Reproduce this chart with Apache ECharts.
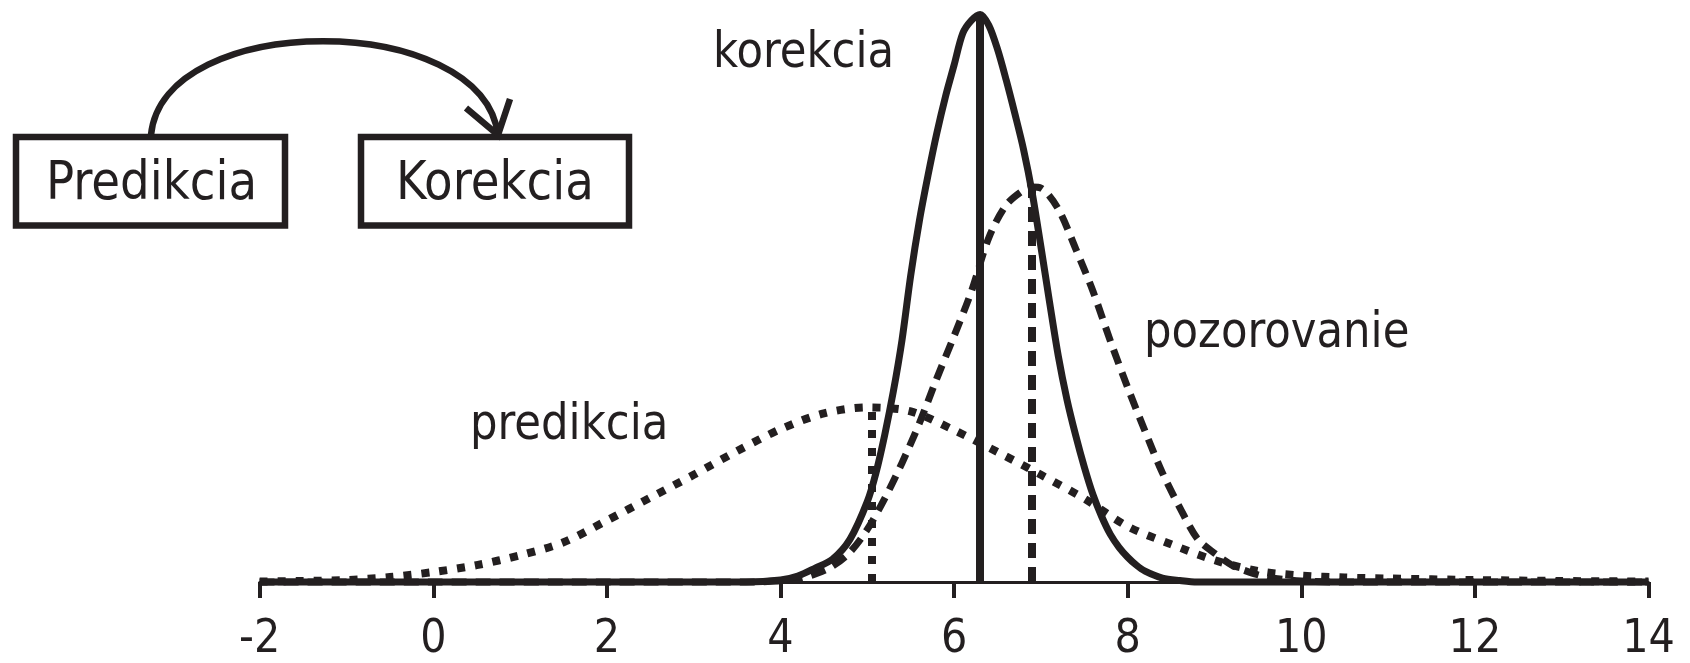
<!DOCTYPE html>
<html>
<head>
<meta charset="utf-8">
<title>Predikcia a korekcia</title>
<script src="https://cdn.jsdelivr.net/npm/echarts@6/dist/echarts.min.js"></script>
<style>
  html, body { margin: 0; padding: 0; background: #ffffff; }
  #chart { width: 1690px; height: 663px; }
</style>
</head>
<body>
<div id="chart"></div>
<script>
// x axis ticks
const xTicks = ['-2', '0', '2', '4', '6', '8', '10', '12', '14'];

// predikcia (dotted curve)
const predX = [-2, -1.5, -1, -0.5, 0, 0.5, 1, 1.5, 2, 2.5, 3, 3.5, 4, 4.5, 5, 5.5, 6, 6.5, 7, 7.5, 8, 8.5, 9, 9.5, 10, 10.5, 11, 12, 13, 14];
const predY = [0.5, 1, 2, 5, 10, 17, 27, 40, 62, 85, 108, 132, 154, 170, 176, 172, 153, 131, 108, 84, 56, 38, 22, 11, 6.5, 4.5, 3.5, 2, 1, 0.5];

// pozorovanie (dashed curve)
const pozX = [-2, 0, 2, 3.6, 4.0, 4.2, 4.4, 4.6, 4.8, 5.0, 5.2, 5.4, 5.6, 5.8, 6.0, 6.2, 6.4, 6.6, 6.8, 6.9, 7.0, 7.2, 7.4, 7.6, 7.8, 8.0, 8.2, 8.4, 8.6, 8.8, 9.0, 9.2, 9.4, 9.6, 9.8, 10.0, 10.4, 12, 14];
const pozY = [0, 0, 0, 0, 1, 3, 8, 16, 30, 53, 84, 120, 160, 205, 248, 293, 347, 380, 395, 398, 397, 376, 336, 293, 243, 196, 152, 110, 75, 44, 29, 17, 10, 5, 2.5, 1, 0, 0, 0];

// korekcia (solid curve)
const korX = [-2, 0, 2, 3.6, 4.0, 4.2, 4.4, 4.6, 4.8, 5.0, 5.1, 5.2, 5.3, 5.4, 5.5, 5.6, 5.7, 5.8, 5.9, 6.0, 6.1, 6.2, 6.3, 6.4, 6.5, 6.6, 6.7, 6.8, 6.9, 7.0, 7.1, 7.2, 7.3, 7.4, 7.5, 7.6, 7.7, 7.8, 7.9, 8.0, 8.1, 8.2, 8.4, 8.6, 8.8, 10, 12, 14];
const korY = [0, 0, 0, 0, 2, 6, 14, 23, 43, 81, 110, 148, 192, 244, 309, 364, 410, 452, 489, 521, 553, 566, 572, 561, 537, 506, 472, 436, 392, 338, 282, 228, 184, 148, 116, 88, 66, 48, 35, 25, 17, 11, 4, 1.5, 0, 0, 0, 0];

// centre lines: predikcia, pozorovanie, korekcia
const centerX = [5.05, 6.9, 6.3];
const centerTop = [176, 397, 572];

const INK = '#231f20';
const WORD_FONT = '"DejaVu Sans Condensed", "DejaVu Sans", sans-serif';

function pairs(xs, ys) {
  return xs.map((x, i) => [x, ys[i]]);
}

function centerLine(i, dash, w) {
  return {
    silent: true,
    symbol: ['none', 'none'],
    label: { show: false },
    emphasis: { disabled: true },
    animation: false,
    lineStyle: { color: INK, width: w, type: dash, cap: 'butt' },
    data: [[{ coord: [centerX[i], 0] }, { coord: [centerX[i], centerTop[i]] }]]
  };
}

function curve(name, xs, ys, dash, w, idx) {
  return {
    name: name,
    type: 'line',
    data: pairs(xs, ys),
    showSymbol: false,
    smooth: 0.3,
    clip: false,
    animation: false,
    lineStyle: { color: INK, width: w, type: dash, cap: 'butt', join: 'round' },
    markLine: centerLine(idx, dash, 8)
  };
}

function word(text, x, y, size, sx) {
  return {
    type: 'text',
    x: x, y: y,
    scaleX: sx,
    silent: true,
    style: {
      text: text, x: 0, y: 0,
      fill: INK,
      fontSize: size,
      fontFamily: WORD_FONT,
      align: 'left',
      verticalAlign: 'middle'
    }
  };
}

const chart = echarts.init(document.getElementById('chart'), null, { renderer: 'canvas' });

chart.setOption({
  backgroundColor: '#ffffff',
  animation: false,
  grid: { left: 259.7, right: 41.5, top: 6.5, bottom: 76.5, containLabel: false },
  xAxis: {
    type: 'value',
    min: -2, max: 14, interval: 2,
    splitLine: { show: false },
    axisLine: { show: true, onZero: false, lineStyle: { color: INK, width: 3 } },
    axisTick: { show: true, inside: false, length: 16, lineStyle: { color: INK, width: 4 } },
    axisLabel: {
      margin: 35,
      color: INK,
      fontSize: 46,
      fontFamily: '"Liberation Sans Narrow", "DejaVu Sans Condensed", sans-serif',
      formatter: (v) => xTicks[Math.round((v + 2) / 2)]
    }
  },
  yAxis: {
    type: 'value', min: 0, max: 580,
    show: false,
    splitLine: { show: false }
  },
  series: [
    curve('predikcia', predX, predY, [8, 10], 8, 0),
    curve('pozorovanie', pozX, pozY, [15, 9], 7, 1),
    curve('korekcia', korX, korY, 'solid', 7, 2)
  ],
  graphic: [
    // Predikcia -> Korekcia cycle diagram
    { type: 'rect', silent: true, shape: { x: 16, y: 137, width: 269, height: 88.5 },
      style: { fill: '#ffffff', stroke: INK, lineWidth: 6.5 } },
    { type: 'rect', silent: true, shape: { x: 361, y: 137, width: 268, height: 88.5 },
      style: { fill: '#ffffff', stroke: INK, lineWidth: 6.5 } },
    { type: 'bezierCurve', silent: true,
      shape: { x1: 151, y1: 135, cpx1: 163, cpy1: 10, cpx2: 482, cpy2: 10, x2: 498, y2: 135 },
      style: { stroke: INK, lineWidth: 6.5, fill: null } },
    { type: 'polyline', silent: true,
      shape: { points: [[466, 108], [498, 135], [510, 99]] },
      style: { stroke: INK, lineWidth: 6.5, fill: null, lineJoin: 'miter' } },
    word('Predikcia', 46, 185.4, 53, 0.98),
    word('Korekcia', 396, 185.4, 53, 0.98),
    // curve labels
    word('korekcia', 713, 54.4, 50, 0.965),
    word('predikcia', 470, 426, 50, 0.965),
    word('pozorovanie', 1144, 334.4, 50, 0.965)
  ]
});
</script>
</body>
</html>
